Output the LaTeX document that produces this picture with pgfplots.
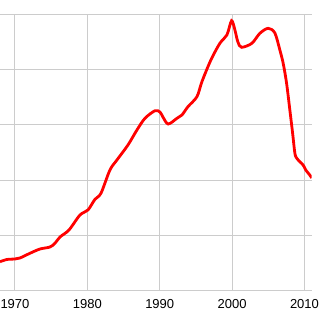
\documentclass[border=0pt]{standalone}
\usepackage{pgfplots}
\pgfplotsset{compat=1.18}
\usepackage{fontspec}
\setmainfont{Liberation Sans}
\definecolor{gridc}{HTML}{CCCCCC}
\begin{document}
\begin{tikzpicture}
\begin{axis}[
  at={(0,0)}, anchor=south west,
  scale only axis,
  width=311.7pt, height=277pt,
  xmin=1967.93, xmax=2011,
  ymin=0, ymax=5,
  xtick={1970,1980,1990,2000,2010},
  ytick={0,1,2,3,4,5},
  yticklabels={},
  grid=major,
  grid style={color=gridc, line width=1pt},
  axis line style={draw=none},
  tick style={draw=none},
  /pgf/number format/assume math mode=true,
  /pgf/number format/1000 sep={},
  xticklabel style={font=\fontsize{13}{13}\selectfont, inner sep=0pt, anchor=north, yshift=-8.3pt},
]
\addplot[color=red, line width=2.8pt, smooth, tension=0.5] coordinates {
(1967.93,0.529) (1968.90,0.569) (1970.00,0.578) (1970.69,0.596) (1972.07,0.681)
(1973.45,0.758) (1974.83,0.794) (1975.52,0.861) (1976.22,0.975) (1977.46,1.101)
(1978.98,1.372) (1980.08,1.462) (1981.05,1.655) (1981.88,1.764) (1983.12,2.184)
(1984.09,2.365) (1985.61,2.635) (1986.85,2.906) (1987.96,3.117) (1989.34,3.254)
(1990.03,3.231) (1990.44,3.141) (1991.17,3.014) (1992.38,3.117) (1993.07,3.177)
(1993.90,3.327) (1995.14,3.507) (1995.83,3.778) (1997.07,4.170) (1998.31,4.471)
(1999.28,4.621) (1999.93,4.879) (2000.39,4.711) (2000.80,4.495) (2001.31,4.399)
(2002.73,4.471) (2003.84,4.652) (2004.99,4.742) (2005.91,4.657) (2006.60,4.350)
(2007.06,4.110) (2007.53,3.749) (2007.98,3.267) (2008.36,2.852) (2008.67,2.491)
(2008.91,2.401) (2009.36,2.334) (2009.82,2.274) (2010.18,2.184) (2010.73,2.094)
(2011.00,2.040)
};
\end{axis}
\pgfresetboundingbox
\useasboundingbox (0,-30pt) rectangle (321pt,291pt);
\end{tikzpicture}
\end{document}
